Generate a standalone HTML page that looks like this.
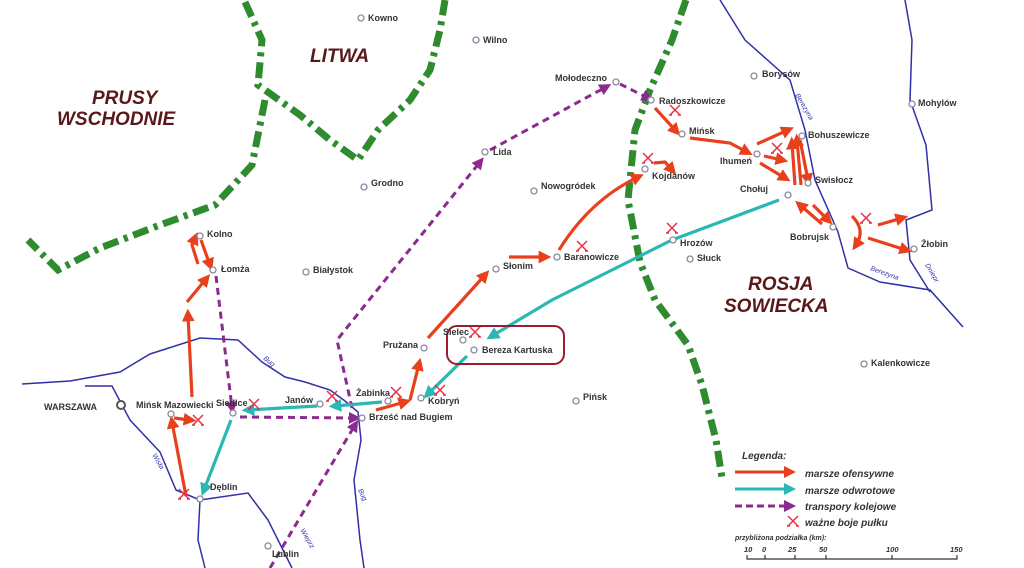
<!DOCTYPE html>
<html><head><meta charset="utf-8"><style>
html,body{margin:0;padding:0;background:#fff;}
svg{display:block;font-family:"Liberation Sans",Arial,sans-serif;}
.c{fill:#fff;stroke:#8a8aa0;stroke-width:1.3}
.t{font-size:9px;font-weight:bold;fill:#333}
.g{fill:none;stroke:#2e8b2e;stroke-width:7;stroke-dasharray:16,6,4,6}
.r{fill:none;stroke:#3030a8;stroke-width:1.5}
.o{fill:none;stroke:#e8401c;stroke-width:3.2;marker-end:url(#mr)}
.q{fill:none;stroke:#2bb7b3;stroke-width:3.2;marker-end:url(#mq)}
.p{fill:none;stroke:#8b2a8f;stroke-width:3;stroke-dasharray:7,5;marker-end:url(#mp)}
.big{font-size:19px;font-weight:bold;font-style:italic;fill:#5a1818}
.x{stroke:#e8304a;stroke-width:1.5;fill:none}
.rv{font-size:7px;font-style:italic;fill:#3535b0}
.lg{font-size:10px;font-weight:bold;font-style:italic;fill:#333}
</style></head><body>
<svg width="1024" height="568" viewBox="0 0 1024 568">
<defs>
<marker id="mr" markerWidth="4" markerHeight="4" refX="2" refY="2" orient="auto"><path d="M0,0L4,2L0,4z" fill="#e8401c"/></marker>
<marker id="mq" markerWidth="4" markerHeight="4" refX="2" refY="2" orient="auto"><path d="M0,0L4,2L0,4z" fill="#2bb7b3"/></marker>
<marker id="mp" markerWidth="4" markerHeight="4" refX="2" refY="2" orient="auto"><path d="M0,0L4,2L0,4z" fill="#8b2a8f"/></marker>
<g id="xx"><path class="x" d="M-5,-5L5,5M5,-5L-5,5M-3,5h-3M3,5h3"/></g>
</defs>
<path class="g" d="M245,2 L262,40 L258,85 L272,95 L300,115 L330,140 L358,160 L378,130 L410,100 L430,70 L440,30 L445,0"/>
<path class="g" d="M265,100 L252,165 L215,205 L160,225 L100,248 L58,270 L28,240"/>
<path class="g" d="M686,0 L672,40 L650,90 L635,130 L628,200 L640,262 L655,300 L688,345 L702,385 L716,440 L722,478"/>
<path class="r" d="M22,384 L70,381 L120,372 L150,354 L200,338 L238,340 L262,362 L285,377 L305,382 L330,390 L345,401 L358,412 L361,440 L354,480 L360,540 L364,568"/>
<path class="r" d="M85,386 L112,386 L130,420 L160,452 L176,490 L200,500 L198,540 L205,568"/>
<path class="r" d="M200,500 L248,493 L268,520 L292,568"/>
<path class="r" d="M720,0 L745,40 L790,80 L805,130 L815,180 L838,232 L848,268 L880,282 L930,290 L963,327"/>
<path class="r" d="M905,0 L912,40 L910,100 L926,145 L932,210 L906,220 L910,260 L930,292"/>
<text class="rv" x="795" y="95" transform="rotate(60 795 95)">Berezyna</text>
<text class="rv" x="870" y="270" transform="rotate(20 870 270)">Berezyna</text>
<text class="rv" x="925" y="265" transform="rotate(60 925 265)">Dniepr</text>
<text class="rv" x="263" y="359" transform="rotate(40 263 359)">Bug</text>
<text class="rv" x="358" y="490" transform="rotate(65 358 490)">Bug</text>
<text class="rv" x="152" y="455" transform="rotate(60 152 455)">Wisła</text>
<text class="rv" x="300" y="530" transform="rotate(60 300 530)">Wieprz</text>
<text class="big" x="310" y="62">LITWA</text>
<text class="big" x="92" y="104">PRUSY</text>
<text class="big" x="57" y="125">WSCHODNIE</text>
<text class="big" x="748" y="290">ROSJA</text>
<text class="big" x="724" y="312">SOWIECKA</text>
<path class="p" d="M216,276 L232,408"/>
<path class="p" d="M240,417 L355,418"/>
<path class="p" d="M270,568 L355,425"/>
<path class="p" d="M352,408 L337,340 L480,162"/>
<path class="p" d="M490,150 L606,87"/>
<path class="p" d="M620,84 L648,98"/>
<path class="o" d="M192,397 L188,315"/>
<path class="o" d="M187,302 L206,279"/>
<path class="o" d="M198,264 L192,245 L195,238"/>
<path class="o" d="M201,240 L210,265"/>
<path class="o" d="M186,496 L172,422"/>
<path class="o" d="M174,418 L190,420"/>
<path class="o" d="M376,410 L405,402"/>
<path class="o" d="M410,400 L419,364"/>
<path class="o" d="M428,338 L485,275"/>
<path class="o" d="M509,257 L545,257"/>
<path class="o" d="M559,250 Q590,200 638,177"/>
<path class="o" d="M654,163 L665,162 L672,170"/>
<path class="o" d="M655,108 L676,131"/>
<path class="o" d="M690,138 L730,143 L747,152"/>
<path class="o" d="M757,144 L788,130"/>
<path class="o" d="M764,156 L782,160"/>
<path class="o" d="M760,163 L785,178"/>
<path class="o" d="M795,185 L792,143"/>
<path class="o" d="M801,185 L797,140"/>
<path class="o" d="M800,140 L808,180"/>
<path class="o" d="M822,224 L800,205"/>
<path class="o" d="M813,205 L828,220"/>
<path class="o" d="M852,216 Q866,230 856,245"/>
<path class="o" d="M878,225 L902,218"/>
<path class="o" d="M868,238 L906,250"/>
<path class="q" d="M231,420 L204,490"/>
<path class="q" d="M317,406 L248,410"/>
<path class="q" d="M382,402 L335,406"/>
<path class="q" d="M467,356 L428,394"/>
<path class="q" d="M779,200 L672,240 L552,300 L492,336"/>
<rect x="447" y="326" width="117" height="38" rx="10" fill="none" stroke="#9b1b30" stroke-width="2"/>
<use href="#xx" x="675" y="110"/><use href="#xx" x="648" y="158"/><use href="#xx" x="777" y="148"/>
<use href="#xx" x="866" y="218"/><use href="#xx" x="672" y="228"/><use href="#xx" x="582" y="246"/>
<use href="#xx" x="475" y="332"/><use href="#xx" x="440" y="390"/><use href="#xx" x="396" y="392"/>
<use href="#xx" x="332" y="396"/><use href="#xx" x="254" y="404"/><use href="#xx" x="198" y="420"/>
<use href="#xx" x="184" y="494"/>
<g class="t">
<circle class="c" cx="361" cy="18" r="3"/><text x="368" y="21">Kowno</text>
<circle class="c" cx="476" cy="40" r="3"/><text x="483" y="43">Wilno</text>
<circle class="c" cx="616" cy="82" r="3"/><text x="555" y="81">Mołodeczno</text>
<circle class="c" cx="651" cy="100" r="3"/><text x="659" y="104">Radoszkowicze</text>
<circle class="c" cx="682" cy="134" r="3"/><text x="689" y="134">Mińsk</text>
<circle class="c" cx="754" cy="76" r="3"/><text x="762" y="77">Borysów</text>
<circle class="c" cx="912" cy="104" r="3"/><text x="918" y="106">Mohylów</text>
<circle class="c" cx="802" cy="136" r="3"/><text x="808" y="138">Bohuszewicze</text>
<circle class="c" cx="757" cy="154" r="3"/><text x="720" y="164">Ihumeń</text>
<circle class="c" cx="808" cy="183" r="3"/><text x="815" y="183">Swisłocz</text>
<circle class="c" cx="788" cy="195" r="3"/><text x="740" y="192">Chołuj</text>
<circle class="c" cx="833" cy="227" r="3"/><text x="790" y="240">Bobrujsk</text>
<circle class="c" cx="914" cy="249" r="3"/><text x="921" y="247">Żłobin</text>
<circle class="c" cx="645" cy="169" r="3"/><text x="652" y="179">Kojdanów</text>
<circle class="c" cx="673" cy="240" r="3"/><text x="680" y="246">Hrozów</text>
<circle class="c" cx="690" cy="259" r="3"/><text x="697" y="261">Słuck</text>
<circle class="c" cx="485" cy="152" r="3"/><text x="493" y="155">Lida</text>
<circle class="c" cx="364" cy="187" r="3"/><text x="371" y="186">Grodno</text>
<circle class="c" cx="534" cy="191" r="3"/><text x="541" y="189">Nowogródek</text>
<circle class="c" cx="557" cy="257" r="3"/><text x="564" y="260">Baranowicze</text>
<circle class="c" cx="496" cy="269" r="3"/><text x="503" y="269">Słonim</text>
<circle class="c" cx="306" cy="272" r="3"/><text x="313" y="273">Białystok</text>
<circle class="c" cx="200" cy="236" r="3"/><text x="207" y="237">Kolno</text>
<circle class="c" cx="213" cy="270" r="3"/><text x="221" y="272">Łomża</text>
<circle class="c" cx="424" cy="348" r="3"/><text x="383" y="348">Pružana</text>
<circle class="c" cx="463" cy="340" r="3"/><text x="443" y="335">Sielec</text>
<circle class="c" cx="474" cy="350" r="3"/><text x="482" y="353">Bereza Kartuska</text>
<circle class="c" cx="388" cy="401" r="3"/><text x="356" y="396">Żabinka</text>
<circle class="c" cx="421" cy="398" r="3"/><text x="428" y="404">Kobryń</text>
<circle class="c" cx="362" cy="418" r="3"/><text x="369" y="420">Brześć nad Bugiem</text>
<circle class="c" cx="320" cy="404" r="3"/><text x="285" y="403">Janów</text>
<circle class="c" cx="233" cy="413" r="3"/><text x="216" y="406">Siedlce</text>
<circle class="c" cx="171" cy="414" r="3"/><text x="136" y="408">Mińsk Mazowiecki</text>
<circle cx="121" cy="405" r="4" fill="#fff" stroke="#555" stroke-width="2"/><text x="44" y="410">WARSZAWA</text>
<circle class="c" cx="200" cy="499" r="3"/><text x="210" y="490">Dęblin</text>
<circle class="c" cx="268" cy="546" r="3"/><text x="272" y="557">Lublin</text>
<circle class="c" cx="576" cy="401" r="3"/><text x="583" y="400">Pińsk</text>
<circle class="c" cx="864" cy="364" r="3"/><text x="871" y="366">Kalenkowicze</text>
</g>
<text class="lg" x="742" y="459">Legenda:</text>
<path d="M735,472 L790,472" stroke="#e8401c" stroke-width="3" marker-end="url(#mr)"/>
<text class="lg" x="805" y="477">marsze ofensywne</text>
<path d="M735,489 L790,489" stroke="#2bb7b3" stroke-width="3" marker-end="url(#mq)"/>
<text class="lg" x="805" y="494">marsze odwrotowe</text>
<path d="M735,506 L790,506" stroke="#8b2a8f" stroke-width="3" stroke-dasharray="7,4" marker-end="url(#mp)"/>
<text class="lg" x="805" y="510">transpory kolejowe</text>
<use href="#xx" x="793" y="521"/>
<text class="lg" x="805" y="526">ważne boje pułku</text>
<text x="735" y="540" style="font-size:7px;font-weight:bold;font-style:italic;fill:#333">przybliżona podziałka (km):</text>
<g style="font-size:7.5px;font-weight:bold;font-style:italic;fill:#333">
<text x="744" y="552">10</text><text x="762" y="552">0</text><text x="788" y="552">25</text><text x="819" y="552">50</text><text x="886" y="552">100</text><text x="950" y="552">150</text>
</g>
<path d="M747,555 v4 h210 v-4 M765,555v4 M795,555v4 M826,555v4 M892,555v4" stroke="#333" stroke-width="1.2" fill="none"/>
</svg>
</body></html>
